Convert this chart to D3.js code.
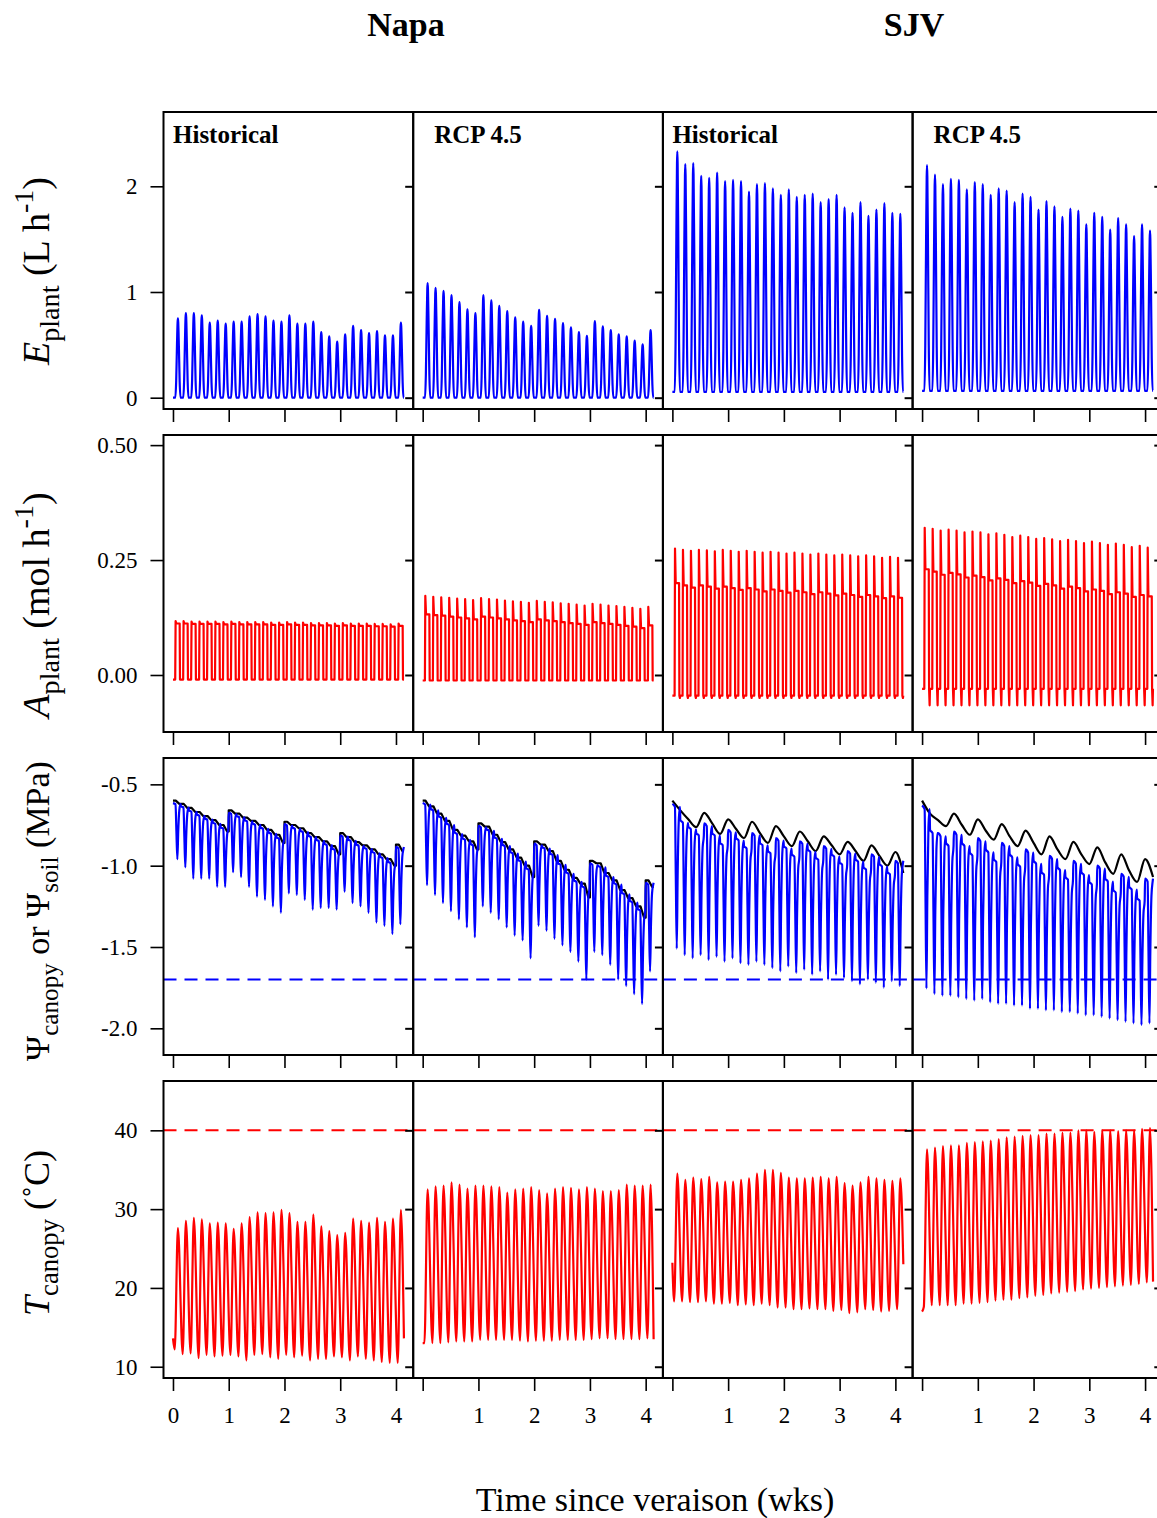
<!DOCTYPE html>
<html>
<head>
<meta charset="utf-8">
<script src="https://cdn.jsdelivr.net/npm/d3@7"></script>
<style>
  body { margin: 0; background: #fff; }
  text { font-family: "Liberation Serif", "Times New Roman", serif; }
</style>
</head>
<body>
<svg id="fig"></svg>
<script>
const W = 1157, H = 1518;
const nDays = 29;

const sites = ['Napa', 'SJV'];
const scenarios = ['Historical', 'RCP 4.5', 'Historical', 'RCP 4.5'];
const weekTicks = [0, 1, 2, 3, 4];

// ---- E plant (L h-1): daily peaks, night base
const ePeakNapaHist = [0.75,0.80,0.80,0.78,0.71,0.73,0.70,0.72,0.72,0.77,0.79,0.77,0.73,0.72,0.78,0.70,0.70,0.72,0.62,0.58,0.53,0.60,0.68,0.64,0.61,0.63,0.59,0.59,0.71];
const ePeakNapaRcp  = [1.085,1.04,1.01,0.97,0.905,0.835,0.80,0.97,0.92,0.87,0.82,0.76,0.72,0.68,0.83,0.775,0.745,0.705,0.665,0.62,0.585,0.725,0.675,0.64,0.60,0.58,0.54,0.505,0.64];
const ePeakSjvHist  = [2.33,2.21,2.22,2.10,2.08,2.13,2.05,2.06,2.05,1.95,2.02,2.03,1.98,1.92,1.97,1.90,1.92,1.93,1.85,1.88,1.92,1.80,1.75,1.85,1.72,1.78,1.84,1.75,1.74];
const ePeakSjvRcp   = [2.20,2.11,2.02,2.07,2.06,1.97,2.04,2.02,1.92,1.98,1.96,1.85,1.93,1.90,1.78,1.86,1.81,1.71,1.79,1.77,1.64,1.75,1.71,1.59,1.70,1.64,1.53,1.64,1.58];
const eBase = [0.0, 0.0, 0.055, 0.065];

// ---- A plant (mol h-1): morning peak, afternoon level, night base
const aPeakNapaHist = [0.117,0.117,0.116,0.116,0.116,0.116,0.115,0.116,0.115,0.115,0.115,0.115,0.114,0.114,0.115,0.114,0.114,0.113,0.113,0.113,0.112,0.113,0.112,0.112,0.112,0.111,0.111,0.110,0.112];
const aMidNapaHist  = [0.112,0.112,0.111,0.111,0.111,0.111,0.110,0.111,0.110,0.110,0.110,0.110,0.109,0.109,0.110,0.109,0.109,0.108,0.108,0.108,0.107,0.108,0.107,0.107,0.107,0.106,0.106,0.105,0.107];
const aPeakNapaRcp  = [0.172,0.170,0.169,0.168,0.166,0.165,0.163,0.167,0.165,0.164,0.162,0.160,0.159,0.157,0.161,0.159,0.158,0.156,0.155,0.153,0.151,0.155,0.153,0.151,0.150,0.148,0.146,0.144,0.148];
const aMidNapaRcp   = [0.132,0.130,0.129,0.127,0.125,0.123,0.121,0.127,0.125,0.123,0.121,0.119,0.117,0.115,0.121,0.119,0.117,0.115,0.113,0.111,0.109,0.115,0.113,0.111,0.109,0.107,0.105,0.102,0.108];
const aPeakSjvHist  = [0.275,0.272,0.270,0.272,0.271,0.269,0.272,0.270,0.268,0.270,0.268,0.266,0.268,0.266,0.264,0.266,0.264,0.262,0.264,0.262,0.260,0.262,0.260,0.258,0.260,0.258,0.255,0.257,0.255];
const aMidSjvHist   = [0.200,0.195,0.190,0.195,0.192,0.188,0.192,0.189,0.185,0.189,0.186,0.182,0.186,0.183,0.179,0.183,0.180,0.176,0.180,0.177,0.173,0.177,0.174,0.170,0.174,0.171,0.167,0.171,0.168];
const aPeakSjvRcp   = [0.320,0.318,0.314,0.316,0.314,0.310,0.312,0.310,0.306,0.308,0.305,0.300,0.303,0.300,0.296,0.298,0.295,0.291,0.294,0.291,0.287,0.290,0.287,0.283,0.286,0.283,0.278,0.281,0.277];
const aMidSjvRcp    = [0.230,0.225,0.218,0.222,0.219,0.212,0.216,0.213,0.206,0.210,0.207,0.200,0.204,0.201,0.194,0.198,0.195,0.188,0.192,0.189,0.182,0.186,0.183,0.176,0.180,0.177,0.170,0.174,0.171];
const aBase = [-0.010, -0.012, -0.045, -0.030];
const aNightDip = [-0.010, -0.012, -0.050, -0.066];

// ---- Psi soil (MPa): level at the start of each day (day 0..28) and at the end
const soilNapaHist = [-0.60,-0.62,-0.645,-0.67,-0.695,-0.72,-0.75,-0.66,-0.68,-0.705,-0.725,-0.75,-0.78,-0.81,-0.73,-0.75,-0.77,-0.80,-0.825,-0.85,-0.88,-0.80,-0.825,-0.855,-0.875,-0.90,-0.93,-0.96,-0.87,-0.91];
const soilNapaRcp  = [-0.60,-0.635,-0.68,-0.725,-0.78,-0.815,-0.85,-0.74,-0.76,-0.81,-0.855,-0.90,-0.95,-1.00,-0.85,-0.87,-0.91,-0.97,-1.025,-1.075,-1.11,-0.97,-0.985,-1.045,-1.09,-1.15,-1.20,-1.25,-1.09,-1.13];
const soilSjvHist  = [-0.60,-0.66,-0.715,-0.763,-0.675,-0.74,-0.805,-0.715,-0.775,-0.83,-0.73,-0.80,-0.86,-0.757,-0.82,-0.88,-0.79,-0.85,-0.91,-0.82,-0.875,-0.93,-0.854,-0.91,-0.97,-0.875,-0.94,-1.00,-0.916,-1.045];
const soilSjvRcp   = [-0.60,-0.68,-0.72,-0.757,-0.68,-0.75,-0.81,-0.715,-0.785,-0.84,-0.745,-0.82,-0.88,-0.785,-0.86,-0.93,-0.82,-0.90,-0.96,-0.854,-0.93,-0.99,-0.887,-0.98,-1.05,-0.93,-1.03,-1.10,-0.96,-1.07];
// Napa: irrigation days and the dry level just before them
const irrigNapa = [7, 14, 21, 28];
const soilDryNapaHist = [-0.79, -0.86, -0.93, -1.00];
const soilDryNapaRcp  = [-0.90, -1.07, -1.195, -1.32];

// ---- Psi canopy (MPa): predawn level and midday minimum
const canTopNapaHist = [-0.615,-0.635,-0.66,-0.685,-0.71,-0.735,-0.765,-0.675,-0.695,-0.72,-0.74,-0.765,-0.795,-0.825,-0.745,-0.765,-0.785,-0.815,-0.84,-0.865,-0.895,-0.815,-0.84,-0.87,-0.89,-0.915,-0.945,-0.975,-0.885];
const canMinNapaHist = [-0.96,-1.01,-1.08,-1.08,-1.08,-1.13,-1.13,-1.04,-1.07,-1.13,-1.19,-1.21,-1.25,-1.29,-1.17,-1.18,-1.21,-1.27,-1.26,-1.26,-1.27,-1.16,-1.23,-1.25,-1.29,-1.35,-1.37,-1.42,-1.36];
const canTopNapaRcp  = [-0.615,-0.65,-0.695,-0.74,-0.795,-0.83,-0.865,-0.755,-0.775,-0.825,-0.87,-0.915,-0.965,-1.015,-0.865,-0.885,-0.925,-0.985,-1.04,-1.09,-1.125,-0.985,-1.0,-1.06,-1.105,-1.165,-1.215,-1.265,-1.105];
const canMinNapaRcp  = [-1.12,-1.18,-1.23,-1.28,-1.33,-1.38,-1.44,-1.25,-1.29,-1.33,-1.38,-1.43,-1.46,-1.57,-1.37,-1.40,-1.45,-1.49,-1.53,-1.59,-1.70,-1.53,-1.55,-1.61,-1.70,-1.74,-1.79,-1.85,-1.65];
const canTopSjvHist  = [-0.62,-0.72,-0.76,-0.80,-0.74,-0.80,-0.86,-0.78,-0.83,-0.88,-0.80,-0.86,-0.91,-0.83,-0.88,-0.93,-0.85,-0.90,-0.95,-0.88,-0.93,-0.98,-0.91,-0.96,-1.01,-0.93,-0.99,-1.04,-0.97];
const canMinSjvHist  = [-1.51,-1.55,-1.57,-1.55,-1.58,-1.56,-1.59,-1.57,-1.60,-1.61,-1.59,-1.61,-1.63,-1.65,-1.62,-1.66,-1.64,-1.67,-1.65,-1.70,-1.67,-1.69,-1.71,-1.73,-1.70,-1.72,-1.75,-1.71,-1.74];
const canTopSjvRcp   = [-0.63,-0.78,-0.80,-0.86,-0.79,-0.86,-0.92,-0.83,-0.90,-0.96,-0.86,-0.93,-0.99,-0.90,-0.97,-1.04,-0.94,-1.01,-1.07,-0.97,-1.04,-1.10,-1.00,-1.08,-1.15,-1.05,-1.13,-1.20,-1.08];
const canMinSjvRcp   = [-1.755,-1.79,-1.80,-1.80,-1.81,-1.82,-1.83,-1.82,-1.84,-1.85,-1.85,-1.86,-1.86,-1.88,-1.88,-1.89,-1.89,-1.90,-1.90,-1.91,-1.92,-1.92,-1.93,-1.94,-1.95,-1.96,-1.97,-1.98,-1.97];
const psiThreshold = -1.7;

// ---- T canopy (C): daily max and min, start and end values
const tMaxNapaHist = [27.6,28.5,28.9,28.7,28.2,28.3,28.2,27.5,28.2,29.0,29.6,29.5,29.6,29.9,29.5,28.4,28.4,29.3,27.8,27.2,26.7,27.0,28.8,28.5,28.3,28.9,28.4,28.8,29.9];
const tMinNapaHist = [12.2,11.6,11.7,11.1,11.5,11.3,11.4,11.5,11.3,10.8,11.5,11.6,11.2,11.0,11.5,11.2,11.4,10.8,11.0,11.0,11.3,11.2,10.8,11.3,11.0,10.8,10.6,10.5,10.5];
const tMaxNapaRcp  = [32.5,32.9,33.0,33.4,33.1,32.6,33.0,33.0,32.9,32.8,32.1,32.5,32.6,32.8,32.4,32.0,32.6,32.8,32.7,32.5,32.8,32.6,32.3,32.3,32.4,33.1,33.0,33.0,33.1];
const tMinNapaRcp  = [13.0,13.0,13.0,13.1,13.2,13.2,13.2,13.4,13.4,13.4,13.4,13.4,13.3,13.2,13.3,13.3,13.3,13.4,13.4,13.4,13.4,13.5,13.6,13.6,13.5,13.5,13.5,13.5,13.6];
const tMaxSjvHist  = [34.5,33.7,34.0,33.8,34.1,33.4,33.5,33.5,33.7,33.9,34.5,35.0,35.0,34.6,34.0,33.9,33.9,34.0,34.1,33.9,34.1,33.3,33.0,33.4,34.1,33.9,33.7,33.6,33.9];
const tMinSjvHist  = [18.3,18.3,18.2,18.2,18.3,18.0,18.0,18.1,17.8,17.9,17.8,18.0,17.8,17.5,17.5,17.3,17.3,17.4,17.3,17.3,17.1,17.2,16.8,16.9,17.3,17.2,17.0,17.1,17.3];
const tMaxSjvRcp   = [37.6,37.8,38.0,38.1,38.1,38.4,38.5,38.6,38.7,38.9,39.1,39.2,39.3,39.4,39.4,39.6,39.6,39.7,39.7,40.0,40.0,39.8,40.0,40.0,39.9,40.0,40.0,40.2,40.3];
const tMinSjvRcp   = [17.6,17.8,17.8,17.8,17.8,18.0,18.0,18.1,18.2,18.4,18.5,18.5,18.7,18.8,19.0,19.1,19.3,19.4,19.5,19.6,19.8,19.9,20.0,20.1,20.2,20.3,20.4,20.5,20.7];
const tStart = [13.6, 13.0, 23.2, 17.0];
const tEnd   = [13.6, 13.5, 23.0, 20.8];
const tThreshold = 40;

// diurnal shapes: [fraction of the day, share of the daily swing or key]
const eShape = [[0.30,0],[0.40,0.2],[0.50,0.65],[0.58,0.95],[0.62,1],[0.66,0.95],[0.74,0.65],[0.84,0.2],[0.94,0]];
const aShape = [[0.28,'lo'],[0.33,'hi'],[0.42,'mid'],[0.84,'mid'],[0.88,'lo'],[0.95,'dip'],[0.99,'lo']];
const canShape = [[0.0,0],[0.32,0.02],[0.43,0.5],[0.55,1],[0.66,0.5],[0.80,0.12],[0.95,0.02]];
const tShape = [[0.22,0],[0.62,1]];

// layout
const colX = [163.5, 413.2, 662.9, 912.6];
const rowY = [112, 435, 758, 1081];
const pw = 249.7, ph = 297;

const yDomains = [[-0.107, 2.703], [-0.124, 0.522], [-2.164, -0.338], [8.57, 46.26]];
const yTicks = [[0, 1, 2], [0, 0.25, 0.5], [-0.5, -1.0, -1.5, -2.0], [10, 20, 30, 40]];
const yFormats = [d => d.toFixed(0), d => d.toFixed(2), d => d.toFixed(1), d => d.toFixed(0)];

const svg = d3.select('#fig').attr('width', W).attr('height', H);

function swing(lo, hi, shape) {
  const pts = [];
  for (let d = 0; d < nDays; d++) {
    const l = Array.isArray(lo) ? lo[d] : lo;
    const h = Array.isArray(hi) ? hi[d] : hi;
    shape.forEach(([f, w]) => pts.push([d + f, l + w * (h - l)]));
  }
  return pts;
}

function aSeries(c) {
  const hi = [aPeakNapaHist, aPeakNapaRcp, aPeakSjvHist, aPeakSjvRcp][c];
  const mid = [aMidNapaHist, aMidNapaRcp, aMidSjvHist, aMidSjvRcp][c];
  const pts = [[0, aBase[c]]];
  for (let d = 0; d < nDays; d++) {
    const v = { lo: aBase[c], hi: hi[d], mid: mid[d], dip: aNightDip[c] };
    aShape.forEach(([f, k]) => pts.push([d + f, v[k]]));
  }
  pts.push([nDays, aBase[c]]);
  return pts;
}

function napaSoil(soil, dry) {
  const pts = [];
  for (let d = 0; d < nDays; d++) {
    const k = irrigNapa.indexOf(d + 1);
    const next = k >= 0 ? dry[k] : soil[d + 1];
    pts.push([d, soil[d]], [d + 0.35, soil[d]], [d + 0.8, next], [d + 1, next]);
  }
  pts.push([nDays, soil[nDays]]);
  return pts;
}

function sjvSoil(soil) {
  return soil.map((v, d) => [d, v]);
}

const series = [
  // row 0: E
  c => [{ pts: [[0, eBase[c]]].concat(swing(eBase[c], [ePeakNapaHist, ePeakNapaRcp, ePeakSjvHist, ePeakSjvRcp][c], eShape), [[nDays, eBase[c]]]), color: '#0000ff', curve: d3.curveMonotoneX }],
  // row 1: A
  c => [{ pts: aSeries(c), color: '#ff0000', curve: d3.curveLinear }],
  // row 2: Psi
  c => {
    const top = [canTopNapaHist, canTopNapaRcp, canTopSjvHist, canTopSjvRcp][c];
    const low = [canMinNapaHist, canMinNapaRcp, canMinSjvHist, canMinSjvRcp][c];
    const soil = [soilNapaHist, soilNapaRcp, soilSjvHist, soilSjvRcp][c];
    const soilPts = c === 0 ? napaSoil(soil, soilDryNapaHist)
      : c === 1 ? napaSoil(soil, soilDryNapaRcp) : sjvSoil(soil);
    const can = swing(top, low, canShape);
    can.push([nDays, top[nDays - 1]]);
    return [
      { pts: soilPts, color: '#000000', curve: c < 2 ? d3.curveLinear : d3.curveMonotoneX },
      { pts: can, color: '#0000ff', curve: d3.curveMonotoneX }
    ];
  },
  // row 3: T
  c => {
    const mx = [tMaxNapaHist, tMaxNapaRcp, tMaxSjvHist, tMaxSjvRcp][c];
    const mn = [tMinNapaHist, tMinNapaRcp, tMinSjvHist, tMinSjvRcp][c];
    const pts = [[0, tStart[c]]].concat(swing(mn, mx, tShape), [[nDays, tEnd[c]]]);
    return [{ pts: pts, color: '#ff0000', curve: d3.curveMonotoneX }];
  }
];

for (let r = 0; r < 4; r++) {
  const y = d3.scaleLinear().domain(yDomains[r]).range([rowY[r] + ph, rowY[r]]);
  for (let c = 0; c < 4; c++) {
    const x = d3.scaleLinear().domain([-0.17, 4.309]).range([colX[c], colX[c] + pw]);
    const g = svg.append('g');

    // threshold lines
    if (r === 2 || r === 3) {
      const v = r === 2 ? psiThreshold : tThreshold;
      g.append('line')
        .attr('x1', colX[c]).attr('x2', colX[c] + pw)
        .attr('y1', y(v)).attr('y2', y(v))
        .attr('stroke', r === 2 ? '#0000ff' : '#ff0000')
        .attr('stroke-width', 2)
        .attr('stroke-dasharray', '13,8');
    }

    const line = d3.line().x(d => x(d[0] / 7)).y(d => y(d[1]));
    series[r](c).forEach(s => {
      g.append('path')
        .attr('d', line.curve(s.curve)(s.pts))
        .attr('fill', 'none')
        .attr('stroke', s.color)
        .attr('stroke-width', 2.2)
        .attr('stroke-linejoin', 'round');
    });

    // box
    g.append('rect')
      .attr('x', colX[c]).attr('y', rowY[r])
      .attr('width', pw).attr('height', ph)
      .attr('fill', 'none').attr('stroke', '#000').attr('stroke-width', 2);

    // inward ticks on the right edge
    const rAx = g.append('g')
      .attr('transform', `translate(${colX[c] + pw},0)`)
      .call(d3.axisLeft(y).tickValues(yTicks[r]).tickSize(8).tickSizeOuter(0).tickFormat(''));
    rAx.select('.domain').remove();
    rAx.selectAll('line').attr('stroke-width', 2);

    // left axis with labels
    if (c === 0) {
      const lAx = g.append('g')
        .attr('transform', `translate(${colX[c]},0)`)
        .call(d3.axisLeft(y).tickValues(yTicks[r]).tickSize(13).tickPadding(13).tickFormat(yFormats[r]));
      lAx.select('.domain').remove();
      lAx.selectAll('line').attr('stroke-width', 1.6);
      lAx.selectAll('text').attr('font-size', 23).attr('font-family', 'Liberation Serif').attr('fill', '#000');
    }

    // bottom ticks
    const bAx = g.append('g')
      .attr('transform', `translate(0,${rowY[r] + ph})`)
      .call(d3.axisBottom(x).tickValues(weekTicks).tickSize(13).tickPadding(16)
        .tickFormat(d => (r === 3 && (c === 0 || d > 0)) ? d : ''));
    bAx.select('.domain').remove();
    bAx.selectAll('line').attr('stroke-width', 1.6);
    bAx.selectAll('text').attr('font-size', 23).attr('font-family', 'Liberation Serif').attr('fill', '#000');

    if (r === 0) {
      g.append('text')
        .attr('x', colX[c] + (c % 2 === 0 ? 9.5 : 21))
        .attr('y', rowY[r] + 31)
        .attr('font-size', 25).attr('font-weight', 'bold')
        .text(scenarios[c]);
    }
  }
}

// site titles
svg.append('text').attr('x', 406).attr('y', 36).attr('text-anchor', 'middle')
  .attr('font-size', 34).attr('font-weight', 'bold').text(sites[0]);
svg.append('text').attr('x', 914).attr('y', 36).attr('text-anchor', 'middle')
  .attr('font-size', 34).attr('font-weight', 'bold').text(sites[1]);

// x title
svg.append('text').attr('x', 655).attr('y', 1511).attr('text-anchor', 'middle')
  .attr('font-size', 34).text('Time since veraison (wks)');

// y titles
const yTitles = [
  [['E', 'i'], ['plant', 'sub'], [' (L h', ''], ['-1', 'sup'], [')', '']],
  [['A', 'i'], ['plant', 'sub'], [' (mol h', ''], ['-1', 'sup'], [')', '']],
  [['\u03A8', ''], ['canopy', 'sub'], [' or \u03A8', ''], ['soil', 'sub'], [' (MPa)', '']],
  [['T', 'i'], ['canopy', 'sub'], [' (\u02DAC)', '']]
];
const titleCenter = [271, 605, 911, 1233];
const titleSize = [38, 38, 34, 36];
yTitles.forEach((parts, r) => {
  const fs = titleSize[r], sub = fs * 0.74;
  const t = svg.append('text')
    .attr('transform', `translate(49,${titleCenter[r]}) rotate(-90)`)
    .attr('text-anchor', 'middle')
    .attr('font-size', fs);
  let shift = 0;
  parts.forEach(([s, kind]) => {
    const sp = t.append('tspan').text(s);
    let target = 0;
    if (kind === 'i') sp.attr('font-style', 'italic');
    if (kind === 'sub') { sp.attr('font-size', sub); target = fs * 0.26; }
    if (kind === 'sup') { sp.attr('font-size', sub); target = -fs * 0.42; }
    sp.attr('dy', target - shift);
    shift = target;
  });
});
</script>
</body>
</html>
